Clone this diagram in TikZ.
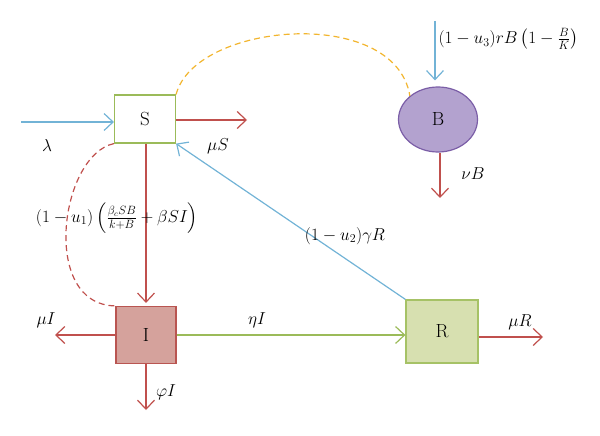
\documentclass[tikz,border=0pt]{standalone}
\usepackage{amsmath,amssymb}
\usepackage{tikz}
\usepackage{xcolor}
\usetikzlibrary{arrows.meta,shapes}

\definecolor{flowred}{HTML}{C0504D}
\definecolor{flowblue}{HTML}{72B3D6}
\definecolor{flowgreen}{HTML}{9BBB59}
\definecolor{linkyellow}{HTML}{F2B52E}
\definecolor{ifill}{HTML}{D5A29C}
\definecolor{iborder}{HTML}{B95551}
\definecolor{rfill}{HTML}{D7E0B0}
\definecolor{rborder}{HTML}{A6C266}
\definecolor{bfill}{HTML}{B3A2CF}
\definecolor{bborder}{HTML}{7B5EA7}

\begin{document}
\begin{tikzpicture}[x=1pt,y=-1pt,
	every node/.style={font=\fontsize{17}{20}\selectfont},
	box/.style={shape=rectangle, line width=1.2pt, inner sep=0pt, font=\fontsize{19}{22}\selectfont},
	flow/.style={-{Straight Barb[length=9pt,width=17pt,line width=1.2pt]}, line width=1.2pt},
	link/.style={dashed, dash pattern=on 6pt off 4pt, line width=1.2pt}]
	\useasboundingbox (0,0) rectangle (600,436);

	\node [box, draw=flowgreen, fill=white, minimum width=61pt, minimum height=48pt] (S) at (145,119) {S};
	\node [box, draw=iborder, fill=ifill, minimum width=60pt, minimum height=57pt] (I) at (146,335) {I};
	\node [box, draw=rborder, fill=rfill, minimum width=72pt, minimum height=63pt] (R) at (442,331.5) {R};
	\node [box, shape=ellipse, draw=bborder, fill=bfill, minimum width=79pt, minimum height=65pt] (B) at (438,119.5) {B};

	\coordinate (lamsrc) at (21,122);
	\coordinate (muSend) at (247,120);
	\coordinate (Bsrc) at (435,21);
	\coordinate (nuBend) at (440,198);
	\coordinate (muIend) at (55,335);
	\coordinate (phiIend) at (146,410);
	\coordinate (muRend) at (543,337);

	\draw [flow, draw=flowblue] (lamsrc) to (S.west |- lamsrc);
	\draw [flow, draw=flowred] (S.east |- muSend) to (muSend);
	\draw [flow, draw=flowred, shorten >=3pt] (S.south -| I.north) to (I.north);
	\draw [flow, draw=flowblue] (R.north west) to (S.south east);
	\draw [flow, draw=flowblue, shorten >=6pt] (Bsrc) to (Bsrc |- B.north);
	\draw [flow, draw=flowred] (B.south -| nuBend) to (nuBend);
	\draw [flow, draw=flowred] (I.west) to (muIend);
	\draw [flow, draw=flowred] (I.south) to (phiIend);
	\draw [flow, draw=flowgreen] (I.east) to (I.east -| R.west);
	\draw [flow, draw=flowred] (R.east |- muRend) to (muRend);

	\draw [link, draw=flowred] (S.south west) .. controls (60,155) and (40,305) .. (I.north west);
	\draw [link, draw=linkyellow] (S.north east) .. controls (195,22) and (395,5) .. (B.140);

	\node (lam) at (47,145) {$\lambda$};
	\node (muS) at (218,146) {$\mu S$};
	\node [anchor=west] (Bin) at (435,39) {$(1-u_3)rB\left(1-\frac{B}{K}\right)$};
	\node (nuB) at (473,174) {$\nu B$};
	\node (inf) at (117,218) {$(1-u_1)\left(\frac{\beta_c SB}{k+B}+\beta SI\right)$};
	\node (rec) at (345,236) {$(1-u_2)\gamma R$};
	\node (muI) at (46,320) {$\mu I$};
	\node (phiI) at (166,392) {$\varphi I$};
	\node (etaI) at (257,320) {$\eta I$};
	\node (muR) at (520,322) {$\mu R$};
\end{tikzpicture}
\end{document}
